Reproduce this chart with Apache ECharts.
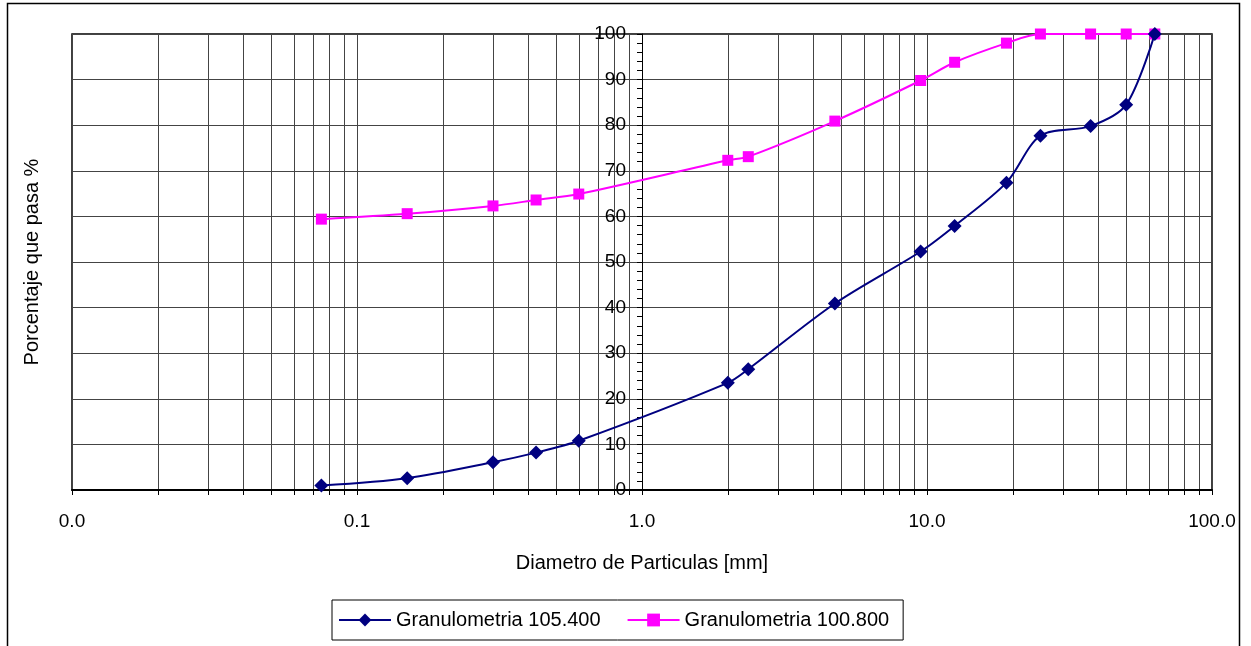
<!DOCTYPE html>
<html>
<head>
<meta charset="utf-8">
<script src="https://cdn.jsdelivr.net/npm/echarts@6/dist/echarts.min.js"></script>
<style>
  html, body { margin: 0; padding: 0; background: #fff; }
  #chart { width: 1251px; height: 646px; }
</style>
</head>
<body>
<div id="chart"></div>
<script>
// sieve sizes (mm)
var sizes = [0.075, 0.15, 0.3, 0.425, 0.6, 2.0, 2.36, 4.75, 9.5, 12.5, 19, 25, 37.5, 50, 63];
// percent passing
var pasa105400 = [1.0, 2.6, 6.1, 8.2, 10.8, 23.5, 26.5, 40.9, 52.3, 57.9, 67.4, 77.7, 79.8, 84.5, 100];
var pasa100800 = [59.4, 60.6, 62.3, 63.6, 64.9, 72.3, 73.1, 80.9, 89.8, 93.8, 98.0, 100, 100, 100, 100];
var seriesNames = ["Granulometria 105.400", "Granulometria 100.800"];
var yTicks = [0, 100, 10];

function pairs(xs, ys) {
    return xs.map(function (x, i) { return [x, ys[i]]; });
}

var chart = echarts.init(document.getElementById("chart"));
var font = "'Liberation Sans', Arial, sans-serif";

var option = {
    animation: false,
    textStyle: { fontFamily: font },
    grid: {
        left: 72,
        right: 39,
        top: 34,
        bottom: 156,
        show: true,
        borderColor: "#000",
        borderWidth: 1.5,
    },
    graphic: [
        {
            type: "rect",
            shape: { x: 7.5, y: 3.5, width: 1232, height: 700 },
            style: { fill: null, stroke: "#000", lineWidth: 1.5 },
            silent: true,
        },
    ],
    legend: {
        left: 332,
        top: 600,
        orient: "horizontal",
        borderColor: "#000",
        borderWidth: 1,
        padding: [10, 14, 10, 6],
        itemWidth: 52,
        itemHeight: 16,
        itemGap: 26,
        textStyle: { fontSize: 20, color: "#000", fontFamily: font },
        data: seriesNames,
    },
    xAxis: {
        type: "log",
        logBase: 10,
        min: 0.01,
        max: 100,
        name: "Diametro de Particulas [mm]",
        nameLocation: "middle",
        nameGap: 63,
        nameTextStyle: { fontSize: 20, color: "#000", fontFamily: font },
        axisLine: { show: true, lineStyle: { color: "#000", width: 2 } },
        axisTick: { show: true, length: 5, lineStyle: { color: "#000" } },
        minorTick: { show: true, splitNumber: 9, length: 5, lineStyle: { color: "#000" } },
        splitLine: { show: true, lineStyle: { color: "#444", width: 1 } },
        minorSplitLine: { show: true, lineStyle: { color: "#444", width: 1 } },
        axisLabel: {
            margin: 22,
            fontSize: 19,
            color: "#000",
            fontFamily: font,
            formatter: function (v) { return v.toFixed(1); },
        },
    },
    yAxis: {
        type: "value",
        min: yTicks[0],
        max: yTicks[1],
        interval: yTicks[2],
        position: "left",
        offset: -570,
        name: "Porcentaje que pasa %",
        nameLocation: "middle",
        nameRotate: 90,
        nameGap: 600,
        nameTextStyle: { fontSize: 20, color: "#000", fontFamily: font },
        axisLine: { show: true, lineStyle: { color: "#000", width: 1 } },
        axisTick: { show: true, length: 5, lineStyle: { color: "#000" } },
        minorTick: { show: true, splitNumber: 5, length: 5, lineStyle: { color: "#000" } },
        splitLine: { show: true, lineStyle: { color: "#444", width: 1 } },
        axisLabel: { margin: 16, fontSize: 19, color: "#000", fontFamily: font },
    },
    series: [
        {
            name: seriesNames[0],
            type: "line",
            data: pairs(sizes, pasa105400),
            smooth: 0.3,
            symbol: "diamond",
            symbolSize: 14,
            lineStyle: { color: "#000080", width: 2 },
            itemStyle: { color: "#000080" },
            z: 5,
        },
        {
            name: seriesNames[1],
            type: "line",
            data: pairs(sizes, pasa100800),
            smooth: 0.3,
            symbol: "rect",
            symbolSize: 11,
            lineStyle: { color: "#FF00FF", width: 2 },
            itemStyle: { color: "#FF00FF" },
            z: 4,
        },
    ],
};

chart.setOption(option);
</script>
</body>
</html>
